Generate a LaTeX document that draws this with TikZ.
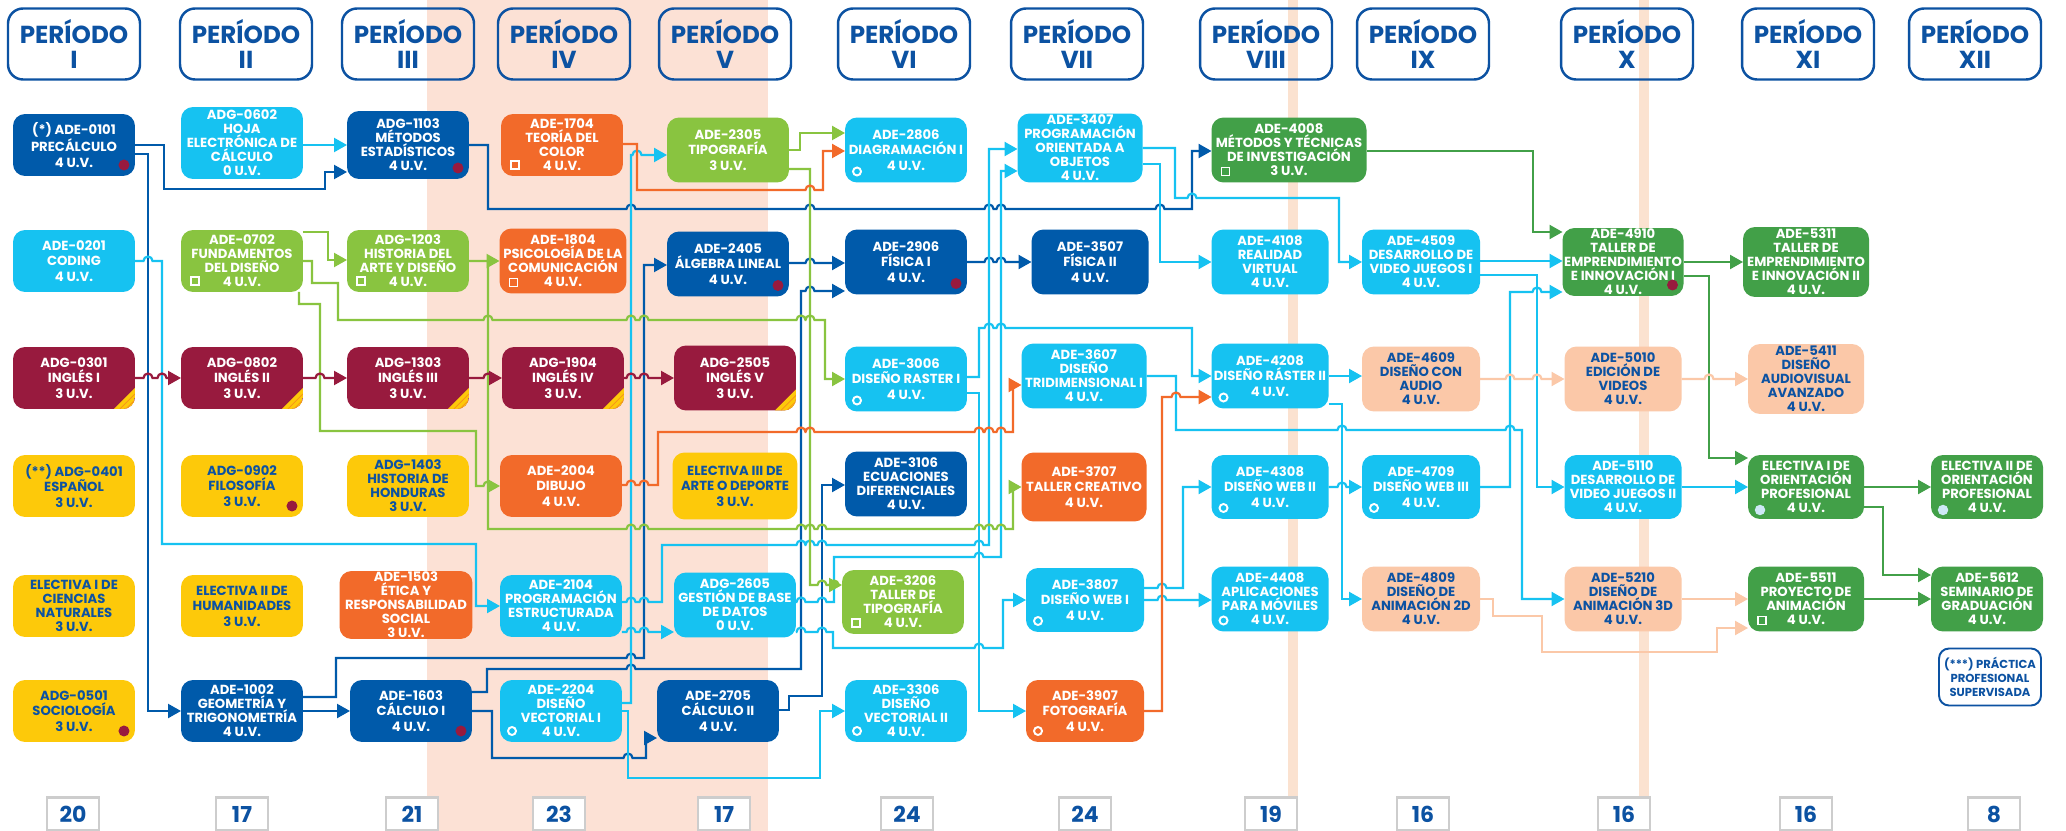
\documentclass[tikz,border=0pt]{standalone}
\usepackage{fontspec}
\setmainfont{Poppins}
\usepackage{tikz}
\usetikzlibrary{arrows.meta, calc}

\definecolor{azulosc}{RGB}{0,90,170}
\definecolor{celeste}{RGB}{22,194,241}
\definecolor{verdecl}{RGB}{137,196,64}
\definecolor{verdeos}{RGB}{66,160,72}
\definecolor{naranja}{RGB}{242,106,42}
\definecolor{vino}{RGB}{152,26,62}
\definecolor{amarillo}{RGB}{253,201,10}
\definecolor{durazno}{RGB}{251,200,168}
\definecolor{rosado}{RGB}{252,225,213}
\definecolor{franja}{RGB}{251,226,208}
\definecolor{txtazul}{RGB}{12,82,162}
\definecolor{gris}{RGB}{205,205,205}
\definecolor{celestecl}{RGB}{205,232,246}

\pgfdeclarelayer{franjas}
\pgfdeclarelayer{lineas}
\pgfsetlayers{franjas,lineas,main}

\tikzset{
  materia/.style={rectangle, rounded corners=2.4mm, minimum width=2.44cm, minimum height=1.24cm, inner sep=0pt, outer sep=0pt, align=center, text=white, font=\bfseries\fontsize{7.5}{8}\selectfont},
  tres/.style={font=\bfseries\fontsize{7.5}{8.8}\selectfont},
  mazul/.style={materia, fill=azulosc},
  mceleste/.style={materia, fill=celeste},
  mverde/.style={materia, fill=verdecl},
  mverdeos/.style={materia, fill=verdeos},
  mnaranja/.style={materia, fill=naranja},
  mvino/.style={materia, fill=vino},
  mamarillo/.style={materia, fill=amarillo, text=txtazul},
  mdurazno/.style={materia, fill=durazno, text=txtazul},
  periodo/.style={draw=txtazul, line width=1.4pt, rounded corners=3mm, minimum width=2.64cm, minimum height=1.42cm, inner sep=0pt, align=center, text=txtazul, font=\bfseries\fontsize{14}{14.5}\selectfont},
  creditos/.style={draw=gris, line width=1.3pt, fill=white, minimum width=1.04cm, minimum height=0.66cm, inner sep=0pt, text=txtazul, font=\bfseries\fontsize{12.5}{12.5}\selectfont},
  practica/.style={draw=txtazul, line width=1.1pt, fill=white, rounded corners=2mm, minimum width=2.04cm, minimum height=1.14cm, inner sep=0pt, align=center, text=txtazul, font=\bfseries\fontsize{6.6}{8}\selectfont},
  flecha/.style={line width=1.25pt, -{Triangle[length=2.6mm,width=2.8mm]}}
}

\newcommand{\hop}[2]{-- (#1-4.5,#2) arc[start angle=180,end angle=0,radius=0.9mm]}
\newcommand{\punto}[1]{\fill[vino] ($(#1.south east)+(-11,-11)$) circle (1.1mm);}
\newcommand{\cuadro}[1]{\draw[white, line width=1.1pt] ($(#1.south west)+(10,-7)$) rectangle ++(8,-8);}
\newcommand{\aro}[1]{\draw[white, line width=1.1pt] ($(#1.south west)+(12,-11)$) circle (0.8mm);}
\newcommand{\bola}[1]{\fill[celestecl] ($(#1.south west)+(12,-9)$) circle (1.05mm);}
\newcommand{\esquina}[1]{
  \begin{scope}
    \clip[rounded corners=2.4mm] (#1.south west) rectangle (#1.north east);
    \fill[amarillo] ($(#1.south east)+(-21,0)$) -- ($(#1.south east)+(0,-21)$) -- (#1.south east) -- cycle;
    \draw[naranja!60!amarillo, line width=0.4pt] ($(#1.south east)+(-15,0)$) -- ($(#1.south east)+(0,-15)$) ($(#1.south east)+(-9,0)$) -- ($(#1.south east)+(0,-9)$);
  \end{scope}}

\begin{document}
\begin{tikzpicture}[x=0.02cm, y=-0.02cm]
  \useasboundingbox (0,0) rectangle (2066,831);
  \begin{pgfonlayer}{franjas}
    \fill[white] (0,0) rectangle (2066,831);
    \fill[rosado] (427,0) rectangle (768,831);
    \fill[franja] (1288,0) rectangle (1298,831);
    \fill[franja] (1639,0) rectangle (1649,831);
  \end{pgfonlayer}

  \foreach \x/\r in {74/I, 246/II, 408/III, 564/IV, 725/V, 904/VI, 1077/VII, 1266/VIII, 1423/IX, 1627/X, 1808/XI, 1975/XII}
    \node[periodo] (p\r) at (\x,44) {PERÍODO\\\r};

  \foreach \x/\n [count=\i] in {73/20, 242/17, 412/21, 559/23, 724/17, 907/24, 1085/24, 1271/19, 1423/16, 1624/16, 1806/16, 1994/8}
    \node[creditos] (u\i) at (\x,814) {\n};

  \node[mazul, tres] (c0101) at (74,145) {(*) ADE-0101\\PRECÁLCULO\\4 U.V.};
  \node[mceleste, tres] (c0201) at (74,261) {ADE-0201\\CODING\\4 U.V.};
  \node[mvino, tres] (c0301) at (74,378) {ADG-0301\\INGLÉS I\\3 U.V.};
  \node[mamarillo, tres] (c0401) at (74,486) {(**) ADG-0401\\ESPAÑOL\\3 U.V.};
  \node[mamarillo] (ecn) at (74,606) {ELECTIVA I DE\\CIENCIAS\\NATURALES\\3 U.V.};
  \node[mamarillo, tres] (c0501) at (74,711) {ADG-0501\\SOCIOLOGÍA\\3 U.V.};

  \node[mceleste, minimum height=1.44cm] (c0602) at (242,143) {ADG-0602\\HOJA\\ELECTRÓNICA DE\\CÁLCULO\\0 U.V.};
  \node[mverde] (c0702) at (242,261) {ADE-0702\\FUNDAMENTOS\\DEL DISEÑO\\4 U.V.};
  \node[mvino, tres] (c0802) at (242,378) {ADG-0802\\INGLÉS II\\3 U.V.};
  \node[mamarillo, tres] (c0902) at (242,486) {ADG-0902\\FILOSOFÍA\\3 U.V.};
  \node[mamarillo, tres] (ehu) at (242,606) {ELECTIVA II DE\\HUMANIDADES\\3 U.V.};
  \node[mazul] (c1002) at (242,711) {ADE-1002\\GEOMETRÍA Y\\TRIGONOMETRÍA\\4 U.V.};

  \node[mazul, minimum height=1.36cm] (c1103) at (408,145) {ADG-1103\\MÉTODOS\\ESTADÍSTICOS\\4 U.V.};
  \node[mverde] (c1203) at (408,261) {ADG-1203\\HISTORIA DEL\\ARTE Y DISEÑO\\4 U.V.};
  \node[mvino, tres] (c1303) at (408,378) {ADG-1303\\INGLÉS III\\3 U.V.};
  \node[mamarillo] (c1403) at (408,486) {ADG-1403\\HISTORIA DE\\HONDURAS\\3 U.V.};
  \node[mnaranja, minimum width=2.66cm, minimum height=1.36cm] (c1503) at (406,605) {ADE-1503\\ÉTICA Y\\RESPONSABILIDAD\\SOCIAL\\3 U.V.};
  \node[mazul, tres] (c1603) at (411,711) {ADE-1603\\CÁLCULO I\\4 U.V.};

  \node[mnaranja] (c1704) at (562,145) {ADE-1704\\TEORÍA DEL\\COLOR\\4 U.V.};
  \node[mnaranja, minimum width=2.54cm, minimum height=1.3cm] (c1804) at (563,261) {ADE-1804\\PSICOLOGÍA DE LA\\COMUNICACIÓN\\4 U.V.};
  \node[mvino, tres] (c1904) at (563,378) {ADG-1904\\INGLÉS IV\\3 U.V.};
  \node[mnaranja, tres] (c2004) at (561,486) {ADE-2004\\DIBUJO\\4 U.V.};
  \node[mceleste] (c2104) at (561,606) {ADE-2104\\PROGRAMACIÓN\\ESTRUCTURADA\\4 U.V.};
  \node[mceleste] (c2204) at (561,711) {ADE-2204\\DISEÑO\\VECTORIAL I\\4 U.V.};

  \node[mverde, tres, minimum height=1.3cm] (c2305) at (728,150) {ADE-2305\\TIPOGRAFÍA\\3 U.V.};
  \node[mazul, tres, minimum height=1.3cm] (c2405) at (728,264) {ADE-2405\\ÁLGEBRA LINEAL\\4 U.V.};
  \node[mvino, tres, minimum height=1.3cm] (c2505) at (735,378) {ADG-2505\\INGLÉS V\\3 U.V.};
  \node[mamarillo, tres, minimum width=2.5cm, minimum height=1.34cm] (ead) at (735,486) {ELECTIVA III DE\\ARTE O DEPORTE\\3 U.V.};
  \node[mceleste, minimum height=1.3cm] (c2605) at (735,605) {ADG-2605\\GESTIÓN DE BASE\\DE DATOS\\0 U.V.};
  \node[mazul, tres] (c2705) at (718,711) {ADE-2705\\CÁLCULO II\\4 U.V.};

  \node[mceleste, tres, minimum height=1.3cm] (c2806) at (906,150) {ADE-2806\\DIAGRAMACIÓN I\\4 U.V.};
  \node[mazul, tres, minimum height=1.3cm] (c2906) at (906,262) {ADE-2906\\FÍSICA I\\4 U.V.};
  \node[mceleste, tres, minimum height=1.3cm] (c3006) at (906,379) {ADE-3006\\DISEÑO RASTER I\\4 U.V.};
  \node[mazul, minimum height=1.3cm] (c3106) at (906,484) {ADE-3106\\ECUACIONES\\DIFERENCIALES\\4 U.V.};
  \node[mverde, minimum height=1.28cm] (c3206) at (903,602) {ADE-3206\\TALLER DE\\TIPOGRAFÍA\\4 U.V.};
  \node[mceleste] (c3306) at (906,711) {ADE-3306\\DISEÑO\\VECTORIAL II\\4 U.V.};

  \node[mceleste, minimum width=2.5cm, minimum height=1.38cm] (c3407) at (1080,148) {ADE-3407\\PROGRAMACIÓN\\ORIENTADA A\\OBJETOS\\4 U.V.};
  \node[mazul, tres, minimum width=2.34cm, minimum height=1.3cm] (c3507) at (1090,262) {ADE-3507\\FÍSICA II\\4 U.V.};
  \node[mceleste, minimum width=2.5cm, minimum height=1.3cm] (c3607) at (1084,376) {ADE-3607\\DISEÑO\\TRIDIMENSIONAL I\\4 U.V.};
  \node[mnaranja, tres, minimum width=2.5cm, minimum height=1.38cm] (c3707) at (1084,487) {ADE-3707\\TALLER CREATIVO\\4 U.V.};
  \node[mceleste, tres, minimum width=2.36cm, minimum height=1.28cm] (c3807) at (1085,600) {ADE-3807\\DISEÑO WEB I\\4 U.V.};
  \node[mnaranja, tres, minimum width=2.36cm] (c3907) at (1085,711) {ADE-3907\\FOTOGRAFÍA\\4 U.V.};

  \node[mverdeos, minimum width=3.1cm, minimum height=1.3cm] (c4008) at (1289,150) {ADE-4008\\MÉTODOS Y TÉCNICAS\\DE INVESTIGACIÓN\\3 U.V.};
  \node[mceleste, minimum width=2.34cm, minimum height=1.3cm] (c4108) at (1270,262) {ADE-4108\\REALIDAD\\VIRTUAL\\4 U.V.};
  \node[mceleste, tres, minimum width=2.34cm, minimum height=1.3cm] (c4208) at (1270,376) {ADE-4208\\DISEÑO RÁSTER II\\4 U.V.};
  \node[mceleste, tres, minimum width=2.34cm, minimum height=1.28cm] (c4308) at (1270,487) {ADE-4308\\DISEÑO WEB II\\4 U.V.};
  \node[mceleste, minimum width=2.34cm, minimum height=1.3cm] (c4408) at (1270,599) {ADE-4408\\APLICACIONES\\PARA MÓVILES\\4 U.V.};

  \node[mceleste, minimum width=2.36cm, minimum height=1.3cm] (c4509) at (1421,262) {ADE-4509\\DESARROLLO DE\\VIDEO JUEGOS I\\4 U.V.};
  \node[mdurazno, minimum width=2.36cm, minimum height=1.3cm] (c4609) at (1421,379) {ADE-4609\\DISEÑO CON\\AUDIO\\4 U.V.};
  \node[mceleste, tres, minimum width=2.36cm, minimum height=1.28cm] (c4709) at (1421,487) {ADE-4709\\DISEÑO WEB III\\4 U.V.};
  \node[mdurazno, minimum width=2.36cm, minimum height=1.3cm] (c4809) at (1421,599) {ADE-4809\\DISEÑO DE\\ANIMACIÓN 2D\\4 U.V.};

  \node[mverdeos, minimum width=2.42cm, minimum height=1.36cm] (c4910) at (1623,262) {ADE-4910\\TALLER DE\\EMPRENDIMIENTO\\E INNOVACIÓN I\\4 U.V.};
  \node[mdurazno, minimum width=2.34cm, minimum height=1.3cm] (c5010) at (1623,379) {ADE-5010\\EDICIÓN DE\\VIDEOS\\4 U.V.};
  \node[mceleste, minimum width=2.34cm, minimum height=1.28cm] (c5110) at (1623,487) {ADE-5110\\DESARROLLO DE\\VIDEO JUEGOS II\\4 U.V.};
  \node[mdurazno, minimum width=2.34cm, minimum height=1.3cm] (c5210) at (1623,599) {ADE-5210\\DISEÑO DE\\ANIMACIÓN 3D\\4 U.V.};

  \node[mverdeos, minimum width=2.52cm, minimum height=1.4cm] (c5311) at (1806,262) {ADE-5311\\TALLER DE\\EMPRENDIMIENTO\\E INNOVACIÓN II\\4 U.V.};
  \node[mdurazno, minimum width=2.32cm, minimum height=1.4cm] (c5411) at (1806,379) {ADE-5411\\DISEÑO\\AUDIOVISUAL\\AVANZADO\\4 U.V.};
  \node[mverdeos, minimum width=2.32cm, minimum height=1.28cm] (eop1) at (1806,487) {ELECTIVA I DE\\ORIENTACIÓN\\PROFESIONAL\\4 U.V.};
  \node[mverdeos, minimum width=2.32cm, minimum height=1.3cm] (c5511) at (1806,599) {ADE-5511\\PROYECTO DE\\ANIMACIÓN\\4 U.V.};

  \node[mverdeos, minimum width=2.24cm, minimum height=1.28cm] (eop2) at (1987,487) {ELECTIVA II DE\\ORIENTACIÓN\\PROFESIONAL\\4 U.V.};
  \node[mverdeos, minimum width=2.24cm, minimum height=1.3cm] (c5612) at (1987,599) {ADE-5612\\SEMINARIO DE\\GRADUACIÓN\\4 U.V.};
  \node[practica] (pps) at (1990,677) {(***) PRÁCTICA\\PROFESIONAL\\SUPERVISADA};

  \punto{c0101} \punto{c1103} \punto{c0902} \punto{c0501} \punto{c1603} \punto{c2405} \punto{c2906} \punto{c4910}
  \cuadro{c0702} \cuadro{c1203} \cuadro{c1704} \cuadro{c1804} \cuadro{c4008} \cuadro{c3206} \cuadro{c5511}
  \aro{c2806} \aro{c3006} \aro{c2204} \aro{c3306} \aro{c4208} \aro{c4308} \aro{c4408} \aro{c4709} \aro{c3807} \aro{c3907}
  \bola{eop1} \bola{eop2}
  \esquina{c0301} \esquina{c0802} \esquina{c1303} \esquina{c1904} \esquina{c2505}

  \begin{pgfonlayer}{lineas}
    \draw[flecha, azulosc] (c0101.east |- 0,145) -- (164,145) -- (164,189) -- (325,189) -- (325,172) -- (c1103.west |- 0,172);
    \draw[flecha, azulosc] (c0101.east |- 0,154) -- (148,154) -- (148,711) -- (c1002.west |- 0,711);
    \draw[flecha, azulosc] (c1103.east |- 0,145) -- (488,145) -- (488,209) \hop{631}{209} \hop{810}{209} \hop{989}{209} \hop{1001}{209} \hop{1160}{209} -- (1192,209) -- (1192,151) -- (c4008.west |- 0,151);
    \draw[flecha, azulosc] (c1002.east |- 0,711) -- (c1603.west |- 0,711);
    \draw[flecha, azulosc] (c1002.east |- 0,697) -- (336,697) -- (336,658) \hop{631}{658} -- (644,658) -- (644,265) -- (c2405.west |- 0,265);
    \draw[flecha, azulosc] (c1603.east |- 0,692) -- (487,692) -- (487,669) \hop{631}{669} -- (801,669) -- (801,291) \hop{810}{291} -- (c2906.west |- 0,291);
    \draw[flecha, azulosc] (c1603.east |- 0,711) -- (492,711) -- (492,758) \hop{628}{758} -- (646,758) -- (646,738) -- (c2705.west |- 0,738);
    \draw[flecha, azulosc] (c2405.east |- 0,263) \hop{810}{263} -- (c2906.west |- 0,263);
    \draw[flecha, azulosc] (c2906.east |- 0,262) \hop{989}{262} \hop{1001}{262} -- (c3507.west |- 0,262);
    \draw[flecha, azulosc] (c2705.east |- 0,710) -- (789,710) -- (789,696) -- (822,696) -- (822,485) -- (c3106.west |- 0,485);

    \draw[flecha, celeste] (c0602.east |- 0,145) -- (c1103.west |- 0,145);
    \draw[flecha, celeste] (c0201.east |- 0,261) \hop{148}{261} -- (162,261) -- (162,544) -- (476,544) -- (476,606) -- (c2104.west |- 0,606);
    \draw[flecha, celeste] (c2204.east |- 0,703) -- (631,703) -- (631,155) \hop{637}{155} -- (c2305.west |- 0,155);
    \draw[flecha, celeste] (c2204.east |- 0,711) -- (628,711) -- (628,778) -- (820,778) -- (820,711) -- (c3306.west |- 0,711);
    \draw[flecha, celeste] (c2104.east |- 0,632) \hop{631}{632} \hop{644}{632} -- (c2605.west |- 0,632);
    \draw[flecha, celeste] (c2104.east |- 0,602) \hop{631}{602} \hop{644}{602} -- (662,602) -- (662,545) \hop{801}{545} \hop{810}{545} \hop{822}{545} \hop{979}{545} -- (989,545) -- (989,149) -- (c3407.west |- 0,149);
    \draw[flecha, celeste] (c2605.east |- 0,602) \hop{801}{602} \hop{822}{602} -- (834,602) -- (834,557) \hop{979}{557} -- (1001,557) -- (1001,171) -- (c3407.west |- 0,171);
    \draw[flecha, celeste] (c2605.east |- 0,632) \hop{801}{632} \hop{822}{632} -- (833,632) -- (833,648) \hop{979}{648} -- (1003,648) -- (1003,600) -- (c3807.west |- 0,600);
    \draw[flecha, celeste] (c3006.east |- 0,377) -- (979,377) -- (979,328) \hop{989}{328} \hop{1001}{328} -- (1192,328) -- (1192,376) -- (c4208.west |- 0,376);
    \draw[flecha, celeste] (c3006.east |- 0,393) -- (979,393) -- (979,711) -- (c3907.west |- 0,711);
    \draw[flecha, celeste] (c3407.east |- 0,164) -- (1160,164) -- (1160,262) -- (c4108.west |- 0,262);
    \draw[flecha, celeste] (c3407.east |- 0,148) -- (1175,148) -- (1175,198) \hop{1192}{198} -- (1339,198) -- (1339,262) -- (c4509.west |- 0,262);
    \draw[flecha, celeste] (c3607.east |- 0,376) -- (1176,376) -- (1176,430) \hop{1342}{430} \hop{1510}{430} -- (1522,430) -- (1522,599) -- (c5210.west |- 0,599);
    \draw[flecha, celeste] (c3807.east |- 0,588) \hop{1162}{588} -- (1183,588) -- (1183,487) -- (c4308.west |- 0,487);
    \draw[flecha, celeste] (c3807.east |- 0,600) \hop{1162}{600} -- (c4408.west |- 0,600);
    \draw[flecha, celeste] (c4208.east |- 0,376) -- (c4609.west |- 0,376);
    \draw[flecha, celeste] (c4208.east |- 0,404) -- (1342,404) -- (1342,599) -- (c4809.west |- 0,599);
    \draw[flecha, celeste] (c4308.east |- 0,487) \hop{1342}{487} -- (c4709.west |- 0,487);
    \draw[flecha, celeste] (c4709.east |- 0,487) -- (1510,487) -- (1510,292) \hop{1537}{292} -- (c4910.west |- 0,292);
    \draw[flecha, celeste] (c4509.east |- 0,261) -- (c4910.west |- 0,261);
    \draw[flecha, celeste] (c4509.east |- 0,275) -- (1537,275) -- (1537,487) -- (c5110.west |- 0,487);
    \draw[flecha, celeste] (c5110.east |- 0,487) -- (eop1.west |- 0,487);

    \draw[flecha, verdecl] (c0702.east |- 0,232) -- (328,232) -- (328,260) -- (c1203.west |- 0,260);
    \draw[flecha, verdecl] (c0702.east |- 0,261) -- (312,261) -- (312,283) -- (338,283) -- (338,320) \hop{488}{320} \hop{631}{320} \hop{644}{320} \hop{801}{320} \hop{810}{320} -- (825,320) -- (825,379) -- (c3006.west |- 0,379);
    \draw[flecha, verdecl] (c0702.south -| 299,0) -- (299,304) -- (320,304) -- (320,431) -- (476,431) -- (476,486) \hop{488}{486} -- (c2004.west |- 0,486);
    \draw[flecha, verdecl] (c1203.east |- 0,261) -- (c1804.west |- 0,261);
    \draw[flecha, verdecl] (c1203.east |- 0,261) -- (488,261) -- (488,529) \hop{631}{529} \hop{644}{529} \hop{801}{529} \hop{810}{529} \hop{822}{529} \hop{979}{529} \hop{989}{529} \hop{1001}{529} -- (1013,529) -- (1013,487) -- (c3707.west |- 0,487);
    \draw[flecha, verdecl] (c2305.east |- 0,150) -- (800,150) -- (800,133) -- (c2806.west |- 0,133);
    \draw[flecha, verdecl] (c2305.east |- 0,169) -- (810,169) -- (810,585) \hop{822}{585} \hop{834}{585} -- (c3206.west |- 0,585);

    \draw[flecha, naranja] (c1704.east |- 0,144) -- (637,144) -- (637,190) \hop{810}{190} -- (823,190) -- (823,151) -- (c2806.west |- 0,151);
    \draw[flecha, naranja] (c2004.east |- 0,485) \hop{631}{485} \hop{644}{485} -- (658,485) -- (658,432) \hop{801}{432} \hop{810}{432} \hop{979}{432} \hop{989}{432} \hop{1001}{432} -- (1013,432) -- (1013,385) -- (c3607.west |- 0,385);
    \draw[flecha, naranja] (c3907.east |- 0,711) -- (1162,711) -- (1162,397) \hop{1176}{397} -- (c4208.west |- 0,397);

    \draw[flecha, vino] (c0301.east |- 0,378) \hop{148}{378} \hop{162}{378} -- (c0802.west |- 0,378);
    \draw[flecha, vino] (c0802.east |- 0,378) \hop{320}{378} -- (c1303.west |- 0,378);
    \draw[flecha, vino] (c1303.east |- 0,378) \hop{488}{378} -- (c1904.west |- 0,378);
    \draw[flecha, vino] (c1904.east |- 0,378) \hop{631}{378} \hop{644}{378} -- (c2505.west |- 0,378);

    \draw[flecha, verdeos] (c4008.east |- 0,151) -- (1533,151) -- (1533,232) -- (c4910.west |- 0,232);
    \draw[flecha, verdeos] (c4910.east |- 0,262) -- (c5311.west |- 0,262);
    \draw[flecha, verdeos] (c4910.east |- 0,276) -- (1709,276) -- (1709,458) -- (eop1.west |- 0,458);
    \draw[flecha, verdeos] (eop1.east |- 0,487) -- (eop2.west |- 0,487);
    \draw[flecha, verdeos] (eop1.east |- 0,507) -- (1883,507) -- (1883,575) -- (c5612.west |- 0,575);
    \draw[flecha, verdeos] (c5511.east |- 0,599) -- (c5612.west |- 0,599);

    \draw[flecha, durazno] (c4609.east |- 0,379) \hop{1510}{379} \hop{1537}{379} -- (c5010.west |- 0,379);
    \draw[flecha, durazno] (c5010.east |- 0,379) \hop{1709}{379} -- (c5411.west |- 0,379);
    \draw[flecha, durazno] (c5210.east |- 0,599) -- (c5511.west |- 0,599);
    \draw[flecha, durazno] (c4809.east |- 0,599) -- (1493,599) -- (1493,616) -- (1542,616) -- (1542,652) -- (1717,652) -- (1717,628) -- (c5511.west |- 0,628);
  \end{pgfonlayer}
\end{tikzpicture}
\end{document}
